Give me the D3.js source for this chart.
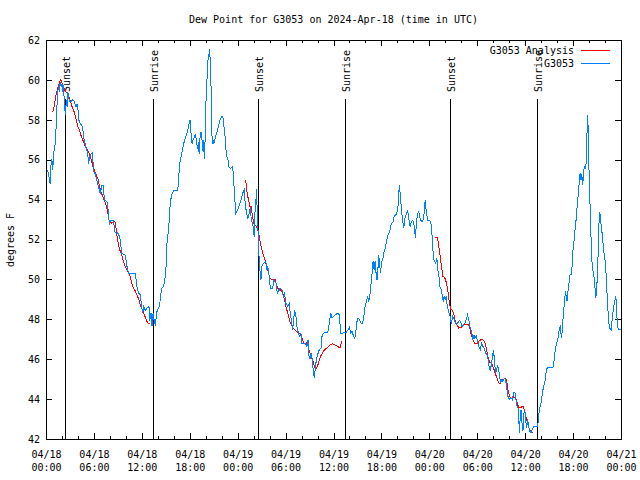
<!DOCTYPE html>
<html><head><meta charset="utf-8">
<script src="https://cdn.jsdelivr.net/npm/d3@7"></script>
<style>body{margin:0;background:#fff} svg{display:block} text{font-family:"DejaVu Sans Mono",monospace;font-size:10px;fill:#000}</style>
</head><body><svg id="c" width="640" height="480"></svg>
<script>
// [hours since 2024-04-18 00:00 UTC, dew point °F]
const observed = [[0.13,55.5],[0.25,55.33],[0.46,54.83],[0.54,55.67],[0.67,56.08],[0.79,55.5],[0.88,56.33],[1.09,56.83],[1.21,57.67],[1.30,58.67],[1.42,59.5],[1.55,59.67],[1.63,59.42],[1.71,59.92],[1.84,59.67],[1.96,59.83],[2.05,59.42],[2.13,59.75],[2.26,58.67],[2.38,58.25],[2.47,59.0],[2.59,58.67],[2.68,59.42],[2.80,59.08],[2.97,58.92],[3.30,59.03],[3.51,58.92],[3.68,58.67],[3.80,58.83],[3.93,58.58],[4.06,58.0],[4.22,57.83],[4.43,57.75],[4.56,57.5],[4.64,57.17],[4.85,56.83],[4.97,56.58],[5.18,56.33],[5.23,55.83],[5.35,56.0],[5.48,56.25],[5.73,56.37],[5.81,56.0],[5.89,55.42],[6.10,55.33],[6.31,55.0],[6.52,54.67],[6.73,54.33],[6.81,54.5],[6.94,54.75],[7.15,54.7],[7.23,54.0],[7.57,53.92],[7.78,53.33],[7.86,52.75],[7.99,53.0],[8.40,53.0],[8.53,52.42],[8.74,52.33],[8.90,52.37],[9.16,52.17],[9.32,51.67],[9.45,51.33],[9.87,51.25],[10.08,50.67],[10.28,50.33],[11.12,50.33],[11.33,49.67],[11.54,49.33],[11.75,49.25],[11.87,48.83],[12.04,48.33],[12.17,48.67],[12.37,48.47],[12.58,48.58],[12.83,48.67],[12.92,47.92],[13.09,48.33],[13.21,47.67],[13.34,48.33],[13.50,47.92],[13.67,47.67],[13.75,48.33],[14.00,48.58],[14.17,48.67],[14.26,49.17],[14.46,49.58],[14.67,49.67],[14.88,50.17],[15.01,50.92],[15.09,51.83],[15.22,52.33],[15.34,52.83],[15.51,53.92],[15.72,54.33],[15.93,54.47],[16.43,54.47],[16.56,55.17],[16.68,55.83],[16.85,56.17],[17.01,56.5],[17.18,56.83],[17.35,57.08],[17.52,57.25],[17.68,57.5],[17.85,57.83],[17.98,58.0],[18.06,57.5],[18.23,56.83],[18.35,57.0],[18.52,57.17],[18.65,57.33],[18.77,57.0],[18.90,56.58],[19.02,56.92],[19.11,56.33],[19.23,57.17],[19.36,57.42],[19.48,57.0],[19.61,56.42],[19.69,57.0],[19.77,56.08],[19.86,57.0],[19.94,58.67],[20.07,59.83],[20.19,60.83],[20.28,61.33],[20.36,61.17],[20.44,61.58],[20.53,60.5],[20.65,59.17],[20.74,56.83],[20.86,57.0],[20.94,56.83],[21.07,57.0],[21.28,57.33],[21.45,57.58],[21.61,57.83],[21.78,58.08],[21.99,58.2],[22.12,58.08],[22.20,57.75],[22.37,57.17],[22.45,56.67],[22.53,56.25],[22.70,56.08],[22.83,55.67],[23.03,55.58],[23.24,55.67],[23.37,55.42],[23.54,54.33],[23.70,53.33],
[23.92,53.5],[24.13,53.75],[24.34,54.0],[24.55,54.33],[24.76,54.5],[24.88,53.83],[25.05,53.33],[25.21,53.08],[25.38,53.33],[25.55,53.67],[25.63,53.0],[25.80,52.87],[25.93,52.5],[26.01,52.17],[26.09,53.33],[26.22,53.92],[26.30,54.58],[26.39,53.33],[26.47,52.67],[26.55,51.67],[26.64,51.0],[26.76,50.33],[26.85,50.0],[26.97,50.67],[27.14,50.83],[27.31,50.87],[27.47,50.92],[27.60,50.5],[27.72,50.67],[27.89,50.17],[28.02,49.58],[28.31,49.58],[28.48,50.0],[28.64,49.87],[28.77,49.83],[28.89,49.33],[29.06,49.42],[29.23,49.58],[29.48,49.53],[29.65,49.17],[29.81,49.33],[29.98,48.83],[30.19,48.67],[30.40,48.83],[30.52,48.33],[30.65,48.0],[30.82,47.5],[30.94,48.0],[31.07,48.5],[31.23,48.17],[31.36,47.67],[31.49,47.42],[31.65,47.17],[31.86,47.33],[31.99,46.83],[32.49,46.8],[32.61,46.67],[32.74,47.0],[32.87,46.17],[32.99,46.03],[33.16,46.33],[33.28,45.97],[33.41,45.42],[33.53,45.08],[33.66,45.58],[33.79,46.0],[33.95,46.25],[34.16,46.5],[34.37,46.58],[34.50,47.17],[34.66,47.33],[35.21,47.37],[35.42,47.83],[35.58,48.33],[35.75,48.08],[35.92,48.17],[36.17,48.25],[36.42,48.33],[36.67,48.25],[36.84,47.33],[37.09,47.33],[37.51,47.37],[37.76,47.5],[37.92,47.63],[38.09,47.33],[38.26,47.42],[38.43,47.2],[38.59,47.03],[38.76,47.5],[38.93,48.08],[39.09,48.08],[39.26,47.92],[39.43,47.83],[39.60,47.83],[39.76,48.25],[39.89,48.67],[40.10,49.0],[40.22,49.17],[40.35,48.92],[40.52,49.33],[40.64,49.83],[40.77,50.33],[40.89,50.92],[41.02,50.5],[41.14,50.92],[41.27,50.33],[41.39,50.0],[41.52,50.67],[41.60,51.25],[41.73,50.67],[41.85,50.33],[41.94,50.92],[42.10,51.0],[42.23,51.33],[42.40,51.58],[42.52,51.83],[42.69,52.17],[42.86,52.33],[43.02,52.5],[43.19,52.83],[43.36,52.87],[43.53,53.17],[43.69,53.25],[43.86,53.33],[44.03,53.75],[44.11,54.33],[44.19,54.75],[44.32,54.17],[44.45,53.5],[44.61,52.92],[44.74,52.58],[44.86,53.08],[45.03,53.25],[45.20,53.5],[45.37,53.08],[45.53,52.67],[45.70,52.92],[45.87,53.0],[46.03,52.75],[46.20,52.08],[46.29,52.67],[46.45,53.33],[46.62,53.42],[46.79,53.08],[46.95,52.92],[47.12,52.92],[47.29,53.33],[47.41,54.0],[47.54,53.5],[47.71,53.0],
[47.79,53.0],[48.12,52.92],[48.25,52.42],[48.38,51.5],[48.50,51.0],[48.63,50.92],[48.75,50.83],[48.88,51.08],[49.00,50.5],[49.13,50.25],[49.25,49.67],[49.38,49.58],[49.55,49.25],[49.67,48.92],[49.80,49.17],[49.92,49.0],[50.05,49.17],[50.17,48.75],[50.30,48.5],[50.42,48.33],[50.55,48.17],[50.63,47.92],[50.72,47.83],[50.84,48.17],[50.97,48.08],[51.13,47.92],[51.30,47.75],[51.47,47.83],[51.64,47.92],[51.76,47.97],[51.89,47.87],[52.05,47.67],[52.22,47.75],[52.39,47.83],[52.56,48.0],[52.72,48.25],[52.89,48.0],[53.02,47.67],[53.14,47.5],[53.27,47.33],[53.39,47.0],[53.52,47.25],[53.64,47.08],[53.81,47.17],[53.98,46.92],[54.14,46.67],[54.31,46.5],[54.48,46.83],[54.65,46.67],[54.81,46.58],[54.98,46.33],[55.15,46.25],[55.31,46.0],[55.44,45.58],[55.57,45.42],[55.73,45.83],[55.86,46.25],[55.98,46.5],[56.11,45.83],[56.23,45.33],[56.36,45.5],[56.49,45.75],[56.61,45.5],[56.74,45.17],[56.86,44.83],[56.99,45.0],[57.15,44.92],[57.32,45.08],[57.49,45.0],[57.66,44.5],[57.82,44.08],[57.99,44.03],[58.16,44.08],[58.33,44.0],[58.49,44.33],[58.66,44.37],[58.79,44.0],[58.91,43.67],[59.04,43.58],[59.16,42.83],[59.24,42.33],[59.33,43.33],[59.45,43.5],[59.54,42.83],[59.66,42.42],[59.79,43.33],[59.91,43.42],[59.99,43.0],[60.12,42.58],[60.25,43.0],[60.37,42.67],[60.50,42.42],[60.67,42.33],[60.83,42.5],[61.00,42.63],[61.25,42.63],[61.50,42.63],[61.59,43.0],[61.71,43.5],[61.84,43.67],[61.96,43.92],[62.09,44.33],[62.25,44.67],[62.42,44.92],[62.55,45.33],[62.71,45.63],[63.05,45.63],[63.43,45.63],[63.55,45.92],[63.68,46.42],[63.80,46.67],[63.93,46.92],[64.09,47.17],[64.22,47.58],[64.35,47.67],[64.47,47.08],[64.60,47.5],[64.72,48.33],[64.85,48.83],[64.97,49.42],[65.10,49.17],[65.18,48.92],[65.31,49.5],[65.43,49.83],[65.56,50.25],[65.68,50.25],[65.81,50.67],[65.93,51.5],[66.06,52.0],[66.18,52.5],[66.31,53.0],[66.44,53.67],[66.56,54.17],[66.69,54.83],[66.81,55.33],[66.94,55.0],[67.02,55.33],[67.15,54.75],[67.27,55.5],[67.40,55.67],[67.52,55.58],[67.61,56.17],[67.69,57.5],[67.77,58.25],[67.86,57.0],[67.98,54.5],[68.11,53.33],[68.23,51.33],[68.36,50.58],[68.48,50.33],[68.61,50.0],[68.78,49.08],[68.90,49.58],[69.03,50.67],[69.15,52.67],[69.28,53.42],[69.40,52.92],[69.53,52.5],[69.65,52.0],[69.82,51.33],[69.99,50.83],[70.11,50.0],[70.24,48.92],[70.36,48.08],[70.49,47.58],[70.70,47.5],[70.83,48.0],[70.99,48.58],[71.16,48.92],[71.29,49.17],[71.37,48.67],[71.45,48.0],[71.58,47.53],[71.87,47.5]];

const analysisNight1 = [[0.71,58.42],[0.88,58.5],[1.05,58.92],[1.21,59.33],[1.46,59.67],[1.63,59.92],[1.80,60.03],[1.96,59.83],[2.13,59.67],[2.30,59.5],[2.47,59.42],[2.63,59.33],[2.80,59.2],[2.97,59.0],[3.14,58.75],[3.30,58.58],[3.47,58.42],[3.64,58.17],[3.80,57.87],[3.97,57.63],[4.14,57.5],[4.31,57.25],[4.47,57.08],[4.64,56.92],[4.81,56.75],[4.97,56.63],[5.14,56.5],[5.31,56.37],[5.48,56.17],[5.64,56.0],[5.81,55.67],[5.98,55.5],[6.15,55.37],[6.31,55.17],[6.48,55.03],[6.65,54.67],[6.81,54.42],[6.98,54.25],[7.15,54.08],[7.32,53.92],[7.48,53.7],[7.65,53.42],[7.82,53.0],[7.99,52.92],[8.15,52.83],[8.32,52.87],[8.49,52.92],[8.65,52.87],[8.74,52.42],[8.90,52.0],[9.07,51.67],[9.24,51.42],[9.41,51.25],[9.57,51.0],[9.74,50.8],[9.91,50.63],[10.08,50.5],[10.24,50.37],[10.41,50.25],[10.58,50.0],[10.74,49.75],[10.91,49.58],[11.08,49.47],[11.25,49.3],[11.41,49.17],[11.58,49.0],[11.75,48.75],[11.91,48.58],[12.08,48.42],[12.25,48.25],[12.42,48.08],[12.58,47.92],[12.75,47.8],[12.92,47.8]];
const analysisNight2 = [[24.80,55.03],[24.96,54.92],[25.13,54.33],[25.30,54.0],[25.47,53.67],[25.63,53.67],[25.80,53.17],[25.97,52.83],[26.13,52.75],[26.30,52.67],[26.47,52.5],[26.64,52.17],[26.80,51.83],[26.97,51.5],[27.14,51.25],[27.31,51.08],[27.47,50.83],[27.64,50.58],[27.81,50.33],[27.97,50.08],[28.14,50.03],[28.39,50.03],[28.64,50.0],[28.81,49.75],[28.98,49.58],[29.14,49.47],[29.31,49.5],[29.48,49.42],[29.65,49.25],[29.81,49.0],[29.98,48.67],[30.15,48.42],[30.32,48.17],[30.48,47.92],[30.65,47.75],[30.82,47.63],[30.98,47.53],[31.15,47.47],[31.32,47.42],[31.49,47.37],[31.65,47.33],[31.82,47.25],[31.99,47.08],[32.15,46.92],[32.32,46.8],[32.49,46.75],[32.66,46.92],[32.82,46.58],[32.99,46.33],[33.16,46.08],[33.33,46.0],[33.49,45.75],[33.66,45.53],[33.83,45.58],[33.99,45.75],[34.16,45.97],[34.33,46.17],[34.50,46.3],[34.66,46.42],[34.83,46.5],[35.08,46.58],[35.33,46.67],[35.58,46.75],[35.83,46.8],[36.08,46.75],[36.33,46.7],[36.59,46.63],[36.75,46.58],[36.84,46.75],[37.00,46.92]];
const analysisNight3 = [[48.63,52.13],[48.96,52.13],[49.13,51.67],[49.30,51.17],[49.46,50.67],[49.63,50.17],[49.80,50.13],[49.96,50.03],[50.13,49.75],[50.30,49.33],[50.47,48.75],[50.63,48.53],[50.80,48.47],[50.97,48.33],[51.13,48.03],[51.30,47.83],[51.47,47.7],[51.64,47.58],[51.80,47.63],[51.97,47.63],[52.14,47.7],[52.30,47.75],[52.47,47.75],[52.64,47.78],[52.81,47.75],[52.97,47.63],[53.14,47.33],[53.31,47.08],[53.48,46.92],[53.64,46.8],[53.81,46.8],[53.98,46.83],[54.14,46.92],[54.31,46.97],[54.48,47.03],[54.65,47.0],[54.81,46.92],[54.98,46.75],[55.15,46.42],[55.31,46.08],[55.48,45.87],[55.65,45.83],[55.82,45.75],[55.98,45.58],[56.15,45.37],[56.32,45.17],[56.49,45.0],[56.65,44.83],[56.82,44.83],[56.99,44.92],[57.15,45.0],[57.32,45.03],[57.49,45.08],[57.66,44.83],[57.82,44.42],[57.99,44.17],[58.16,44.08],[58.33,44.08],[58.49,44.13],[58.66,44.08],[58.83,44.0],[59.00,43.75],[59.16,43.58],[59.33,43.58],[59.50,43.63],[59.66,43.67],[59.83,43.5],[60.00,43.17],[60.16,42.92],[60.33,42.67],[60.50,42.5],[60.67,42.37],[60.83,42.33]];

const sunHours = [2.42, 13.46, 26.51, 37.42, 50.59, 61.50];
const sunLabels = ["Sunset","Sunrise","Sunset","Sunrise","Sunset","Sunrise"];
const yTickValues = [42,44,46,48,50,52,54,56,58,60,62];
const xMajorHours = [0,6,12,18,24,30,36,42,48,54,60,66,72];
const xTickDates = ["04/18","04/18","04/18","04/18","04/19","04/19","04/19","04/19","04/20","04/20","04/20","04/20","04/21"];
const xTickTimes = ["00:00","06:00","12:00","18:00","00:00","06:00","12:00","18:00","00:00","06:00","12:00","18:00","00:00"];
const xMinorHours = d3.range(0, 73, 2);
const titleText = "Dew Point for G3053 on 2024-Apr-18 (time in UTC)";
const yAxisLabel = "degrees F";
const legendNames = ["G3053 Analysis", "G3053"];
const colors = {analysis: "#ff0000", observed: "#0080ff"};

const start = Date.UTC(2024, 3, 18);
const T = h => new Date(start + h * 3600000);
const svg = d3.select("#c");
const L = 46, R = 621, TOP = 40, BOT = 439;
const x = d3.scaleUtc().domain([T(0), T(72)]).range([L, R]);
const y = d3.scaleLinear().domain([42, 62]).range([BOT, TOP]);

// title & y label
svg.append("text").attr("x", 333.5).attr("y", 23).attr("text-anchor", "middle").text(titleText);
svg.append("text").attr("transform", "translate(14,240) rotate(-90)").attr("text-anchor", "middle").text(yAxisLabel);

// axes (inward ticks on all sides)
const styleAxis = g => { g.select(".domain").remove(); g.selectAll("line").attr("stroke", "#000").attr("shape-rendering", "crispEdges"); g.attr("font-family", null).attr("font-size", null); };
svg.append("g").attr("transform", `translate(0,${BOT})`).call(d3.axisBottom(x).tickValues(xMinorHours.map(T)).tickSize(-3).tickFormat("")).call(styleAxis);
svg.append("g").attr("transform", `translate(0,${BOT})`).call(d3.axisBottom(x).tickValues(xMajorHours.map(T)).tickSize(-6).tickFormat("")).call(styleAxis);
svg.append("g").attr("transform", `translate(0,${TOP})`).call(d3.axisTop(x).tickValues(xMinorHours.map(T)).tickSize(-3).tickFormat("")).call(styleAxis);
svg.append("g").attr("transform", `translate(0,${TOP})`).call(d3.axisTop(x).tickValues(xMajorHours.map(T)).tickSize(-6).tickFormat("")).call(styleAxis);
svg.append("g").attr("transform", `translate(${L},0)`).call(d3.axisLeft(y).tickValues(yTickValues).tickSize(-6).tickPadding(6).tickFormat(d3.format("d"))).call(styleAxis);
svg.append("g").attr("transform", `translate(${R},0)`).call(d3.axisRight(y).tickValues(yTickValues).tickSize(-6).tickFormat("")).call(styleAxis);

// x tick labels (two lines)
const xl = svg.append("g");
xMajorHours.forEach((h, i) => {
  const t = xl.append("text").attr("text-anchor", "middle").attr("x", x(T(h)) + 0.5);
  t.append("tspan").attr("x", x(T(h)) + 0.5).attr("y", 458).text(xTickDates[i]);
  t.append("tspan").attr("x", x(T(h)) + 0.5).attr("y", 471).text(xTickTimes[i]);
});

// frame
svg.append("rect").attr("x", L + 0.5).attr("y", TOP + 0.5).attr("width", R - L).attr("height", BOT - TOP)
  .attr("fill", "none").attr("stroke", "#000").attr("shape-rendering", "crispEdges");

// sun lines & labels
sunHours.forEach((h, i) => {
  const sx = x(T(h)) + 0.5;
  svg.append("line").attr("x1", sx).attr("x2", sx).attr("y1", 99).attr("y2", BOT)
    .attr("stroke", "#000").attr("shape-rendering", "crispEdges");
  svg.append("text").attr("transform", `translate(${sx + 4.5},92) rotate(-90)`).attr("text-anchor", "start").text(sunLabels[i]);
});

// data lines
const line = d3.line().x(d => x(T(d[0])) + 0.5).y(d => y(d[1]) + 0.5);
[analysisNight1, analysisNight2, analysisNight3].forEach(seg => {
  svg.append("path").datum(seg).attr("d", line).attr("fill", "none").attr("stroke", colors.analysis).attr("stroke-width", 1).attr("shape-rendering", "crispEdges");
});
svg.append("path").datum(observed).attr("d", line).attr("fill", "none").attr("stroke", colors.observed).attr("stroke-width", 1).attr("shape-rendering", "crispEdges");

// legend
const legendColors = [colors.analysis, colors.observed];
legendNames.forEach((n, i) => {
  const ly = 49.5 + i * 13.5;
  svg.append("text").attr("x", 574).attr("y", ly + 4).attr("text-anchor", "end").text(n);
  svg.append("line").attr("x1", 581).attr("x2", 610).attr("y1", Math.round(ly) + 0.5).attr("y2", Math.round(ly) + 0.5)
    .attr("stroke", legendColors[i]).attr("shape-rendering", "crispEdges");
});
</script></body></html>
